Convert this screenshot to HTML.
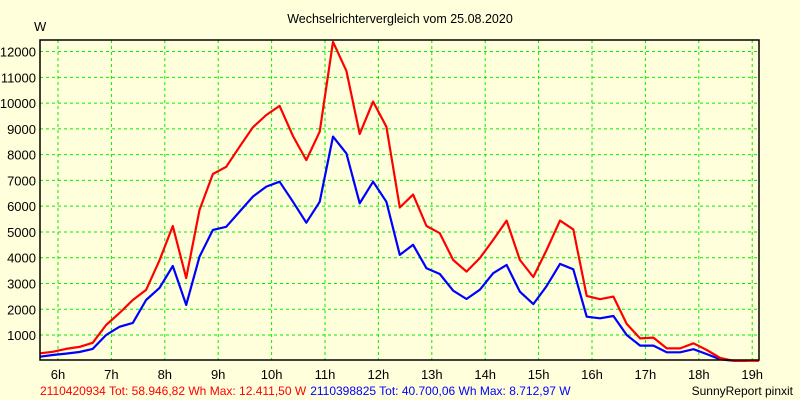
<!DOCTYPE html>
<html><head><meta charset="utf-8"><style>
html,body{margin:0;padding:0;background:#ffffdc;}
svg{display:block;font-family:"Liberation Sans",sans-serif;}
</style></head><body>
<svg id="chart" width="800" height="400" viewBox="0 0 800 400">
<rect x="0" y="0" width="800" height="400" fill="#ffffdc"/>
<text x="400" y="23" text-anchor="middle" font-size="12.5" fill="#000">Wechselrichtervergleich vom 25.08.2020</text>
<text x="34" y="31" font-size="13" fill="#000">W</text>
<g id="grid"></g>
<g id="series"></g>
<rect x="40" y="40" width="719" height="320" fill="none" stroke="#000" stroke-width="1.5"/>
<g id="labels"></g>
<text y="395" font-size="12"><tspan x="40" fill="#ff0000">2110420934 Tot: 58.946,82 Wh Max: 12.411,50 W</tspan><tspan fill="#0000ff" dx="4">2110398825 Tot: 40.700,06 Wh Max: 8.712,97 W</tspan></text>
<text x="793" y="395" text-anchor="end" font-size="12" fill="#000">SunnyReport pinxit</text>
</svg>
<script>
const hourTicks = [6,7,8,9,10,11,12,13,14,15,16,17,18,19];
const yTicks = [1000,2000,3000,4000,5000,6000,7000,8000,9000,10000,11000,12000];
const startHour = 5.65;
const stepHour = 0.25;
const redValues = [290,350,460,540,700,1390,1850,2360,2750,3900,5230,3210,5850,7250,7530,8310,9060,9540,9890,8720,7790,8890,12380,11250,8800,10060,9080,5950,6450,5230,4950,3910,3460,3990,4690,5440,3910,3250,4300,5440,5100,2520,2390,2490,1430,870,900,480,480,680,420,110,0,0];
const blueValues = [160,225,280,340,460,1000,1320,1470,2360,2830,3680,2170,4040,5080,5200,5790,6370,6760,6950,6170,5360,6170,8700,8050,6110,6950,6170,4110,4500,3590,3370,2720,2400,2760,3400,3720,2680,2200,2900,3760,3550,1710,1650,1740,1000,590,590,330,330,450,260,60,0,0];

const NS="http://www.w3.org/2000/svg";
function xs(h){return 58+(h-6)*53.4;}
function ys(v){return 360.8-v*0.02577;}
const grid=document.getElementById('grid');
const labels=document.getElementById('labels');
hourTicks.forEach(h=>{
  const l=document.createElementNS(NS,'line');
  
  
  l.setAttribute('x1',xs(h));l.setAttribute('x2',xs(h));l.setAttribute('y1',40);l.setAttribute('y2',360);
  l.setAttribute('stroke','#00ee00');l.setAttribute('stroke-dasharray','3,3');
  grid.appendChild(l);
  const t=document.createElementNS(NS,'text');
  
  
  t.setAttribute('x',xs(h));t.setAttribute('y',379);t.setAttribute('text-anchor','middle');t.setAttribute('font-size','13');
  t.textContent=h+'h';
  labels.appendChild(t);
});
yTicks.forEach(v=>{
  const l=document.createElementNS(NS,'line');
  
  
  l.setAttribute('x1',40);l.setAttribute('x2',759);l.setAttribute('y1',ys(v));l.setAttribute('y2',ys(v));
  l.setAttribute('stroke','#00ee00');l.setAttribute('stroke-dasharray','3,3');
  grid.appendChild(l);
  const t=document.createElementNS(NS,'text');
  
  
  t.setAttribute('x',36);t.setAttribute('y',ys(v)+5);t.setAttribute('text-anchor','end');t.setAttribute('font-size','13');
  t.textContent=v;
  labels.appendChild(t);
});
const series=document.getElementById('series');
function drawLine(vals,color,name,extend){
  let pts=vals.map((v,i)=>Math.max(40,Math.min(759,xs(startHour+i*stepHour))).toFixed(1)+','+ys(v).toFixed(1));
  if(extend) pts.push('759,'+ys(vals[vals.length-1]).toFixed(1));
  const p=document.createElementNS(NS,'polyline');
  
  
  p.setAttribute('points',pts.join(' '));
  p.setAttribute('fill','none');p.setAttribute('stroke',color);p.setAttribute('stroke-width','2.2');p.setAttribute('stroke-linejoin','round');
  series.appendChild(p);
}
drawLine(blueValues,'#0000ff','series-2110398825',false);
drawLine(redValues,'#ff0000','series-2110420934',true);
</script>
</body></html>
